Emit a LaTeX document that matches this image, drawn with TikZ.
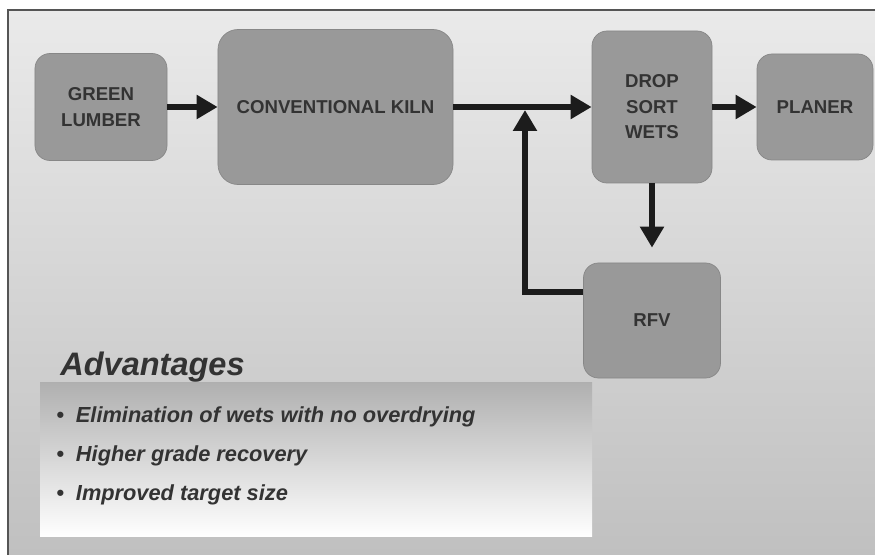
\documentclass[tikz,border=0pt]{standalone}
\usepackage{fontspec}
\setmainfont{Liberation Sans}
\usetikzlibrary{arrows.meta,positioning,calc}
\definecolor{slidetop}{HTML}{EAEAEA}
\definecolor{slidebot}{HTML}{C0C0C0}
\definecolor{advtop}{HTML}{B0B0B0}
\definecolor{advmid}{HTML}{D8D8D8}
\definecolor{boxfill}{HTML}{999999}
\definecolor{ink}{HTML}{333333}
\definecolor{arrowc}{HTML}{1C1C1C}
\definecolor{frame}{HTML}{555555}

\begin{document}
\begin{tikzpicture}[
  x=0.2mm, y=-0.2mm,
  stage/.style={
    draw=boxfill!88!black, fill=boxfill, rounded corners=3mm,
    text=ink, align=center, inner sep=2pt,
    font=\bfseries\fontsize{10.6}{14.5}\selectfont
  },
  arr/.style={-{Triangle[length=4.2mm,width=4.6mm]}, line width=1.1mm, draw=arrowc},
  adv/.style={
    anchor=base west, text=ink, inner sep=0pt,
    font=\bfseries\itshape\fontsize{12.4}{14}\selectfont
  }
]
  \useasboundingbox (0,0) rectangle (875,555);
  \fill[white] (0,0) rectangle (875,555);
  \shade[top color=slidetop, bottom color=slidebot] (8,10) rectangle (875,555);
  \draw[frame, line width=0.4mm] (8,555) -- (8,10) -- (875,10);
  \shade[top color=advtop, middle color=advmid, bottom color=white] (40,383) rectangle (592,537);

  \node[stage, minimum width=26.4mm, minimum height=21.4mm] (lumber) at (101,107) {GREEN\\LUMBER};
  \node[stage, minimum width=47mm, minimum height=31mm, rounded corners=4mm] (kiln) at (335.5,107) {CONVENTIONAL KILN};
  \node[stage, minimum width=24mm, minimum height=30.4mm] (sort) at (652,107) {DROP\\SORT\\WETS};
  \node[stage, minimum width=23.2mm, minimum height=21.2mm] (planer) at (815,107) {PLANER};
  \node[stage, minimum width=27.4mm, minimum height=23mm] (rfv) at (652,320.5) {RFV};

  \coordinate (loop) at (525,292);
  \coordinate (join) at (525,110);

  \draw[arr] (lumber) -- (kiln);
  \draw[arr] (kiln)   -- (sort);
  \draw[arr] (sort)   -- (planer);
  \draw[arr, shorten >=3mm] (sort) -- (rfv);
  \draw[arr] (rfv.west |- loop) -- (loop) -- (join);

  \node[adv, font=\bfseries\itshape\fontsize{18.5}{20}\selectfont] (advhead) at (60,376) {Advantages};
  \node[adv] (adv1) at (56,423) {\textbullet\hspace{2.4mm}Elimination of wets with no overdrying};
  \node[adv] (adv2) at (56,462) {\textbullet\hspace{2.4mm}Higher grade recovery};
  \node[adv] (adv3) at (56,500) {\textbullet\hspace{2.4mm}Improved target size};
\end{tikzpicture}
\end{document}
